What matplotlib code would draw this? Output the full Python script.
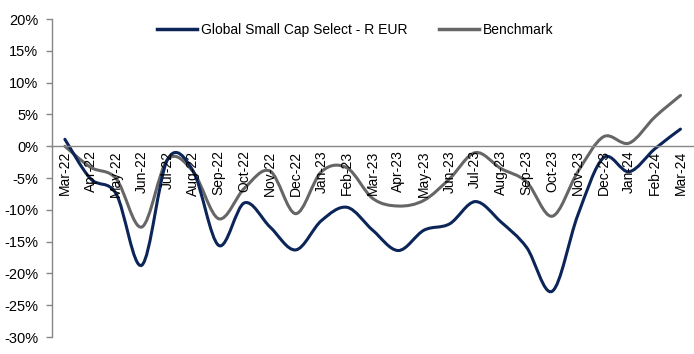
import numpy as np
import matplotlib
matplotlib.use("Agg")
import matplotlib.pyplot as plt
from matplotlib.path import Path
from matplotlib.patches import PathPatch
from matplotlib.lines import Line2D
from matplotlib.ticker import FuncFormatter, MultipleLocator

plt.rcParams['font.family'] = ['Liberation Sans', 'DejaVu Sans']

# monthly performance, %
months = ['Mar-22', 'Apr-22', 'May-22', 'Jun-22', 'Jul-22', 'Aug-22', 'Sep-22',
          'Oct-22', 'Nov-22', 'Dec-22', 'Jan-23', 'Feb-23', 'Mar-23', 'Apr-23',
          'May-23', 'Jun-23', 'Jul-23', 'Aug-23', 'Sep-23', 'Oct-23', 'Nov-23',
          'Dec-23', 'Jan-24', 'Feb-24', 'Mar-24']
fund = [1.1, -5.1, -7.5, -18.7, -2.1, -3.9, -15.6, -8.9, -12.7, -16.3, -11.7,
        -9.6, -13.2, -16.4, -13.2, -12.2, -8.7, -11.9, -15.9, -22.8, -10.8,
        -1.8, -4.0, -0.4, 2.7]
bench = [0.0, -3.3, -5.1, -12.7, -2.1, -4.0, -11.4, -6.6, -3.9, -10.6, -4.0,
         -3.4, -8.2, -9.4, -8.5, -5.1, -1.0, -3.5, -5.6, -11.0, -4.0,
         1.5, 0.5, 4.6, 8.0]

fund_label = 'Global Small Cap Select - R EUR'
bench_label = 'Benchmark'
navy = '#0c2558'
grey = '#666666'


def smooth_path(x, y):
    # Excel style smoothed line: cubic bezier segments through every point
    pts = np.column_stack([x, y]).astype(float)
    n = len(pts)
    verts = [pts[0]]
    codes = [Path.MOVETO]
    for i in range(n - 1):
        p0 = pts[max(i - 1, 0)]
        p1 = pts[i]
        p2 = pts[i + 1]
        p3 = pts[min(i + 2, n - 1)]
        c1 = p1 + (p2 - p0) / 6.0
        c2 = p2 - (p3 - p1) / 6.0
        verts += [c1, c2, p2]
        codes += [Path.CURVE4] * 3
    return Path(verts, codes)


fig = plt.figure(figsize=(6.94, 3.54), dpi=100)
ax = fig.add_axes([0.075, 0.048, 0.924, 0.898])

x = np.arange(len(months))
for vals, col in [(bench, grey), (fund, navy)]:
    ax.add_patch(PathPatch(smooth_path(x, vals), facecolor='none',
                           edgecolor=col, lw=2.2, capstyle='round'))

# x axis sits on the 0% line (this resets the ticks, so do it first)
ax.spines['bottom'].set_position(('data', 0))
ax.spines['top'].set_visible(False)
ax.spines['right'].set_visible(False)
for s in ['bottom', 'left']:
    ax.spines[s].set_color('#868686')
    ax.spines[s].set_linewidth(1)

ax.set_xlim(-0.5, len(months) - 0.5)
ax.set_ylim(-30, 20)
ax.yaxis.set_major_locator(MultipleLocator(5))
ax.yaxis.set_major_formatter(FuncFormatter(lambda v, p: f'{v:.0f}%'))

ax.set_xticks(x)
ax.set_xticklabels(months)
ax.tick_params(axis='x', length=0, pad=3, labelrotation=90, labelsize=10)
ax.tick_params(axis='y', length=4, width=1, color='#868686', labelsize=10.5, pad=6)

handles = [Line2D([], [], color=navy, lw=2.5), Line2D([], [], color=grey, lw=2.5)]
fig.legend(handles, [fund_label, bench_label], loc='center',
           bbox_to_anchor=(0.512, 0.915), ncol=2, frameon=False, fontsize=10,
           handlelength=2.9, handletextpad=0.3, columnspacing=2.2)

fig.savefig('out.png', dpi=100)
